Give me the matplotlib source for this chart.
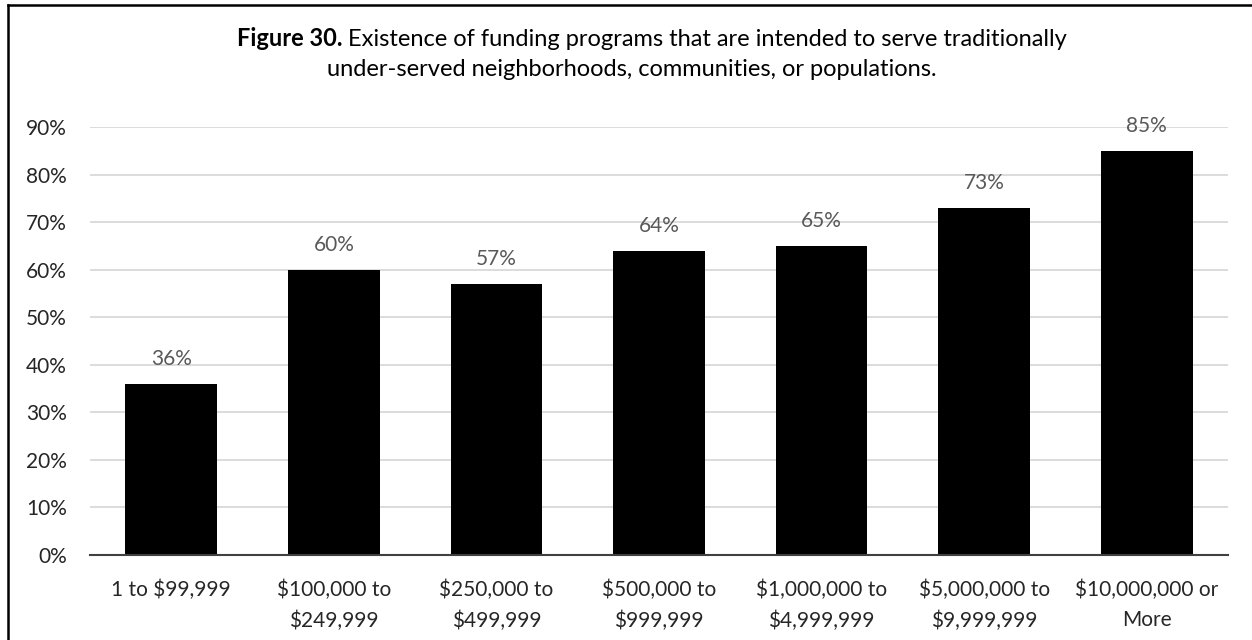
import matplotlib
matplotlib.use("Agg")
import matplotlib.pyplot as plt
from matplotlib.lines import Line2D

categories = ["1 to $99,999", "$100,000 to\n$249,999", "$250,000 to\n$499,999",
              "$500,000 to\n$999,999", "$1,000,000 to\n$4,999,999",
              "$5,000,000 to\n$9,999,999", "$10,000,000 or\nMore"]
values = [36, 60, 57, 64, 65, 73, 85]
yticks = [0, 10, 20, 30, 40, 50, 60, 70, 80, 90]

plt.rcParams['font.family'] = ['Lato', 'DejaVu Sans']

W, H = 1252, 640
fig = plt.figure(figsize=(W / 100, H / 100), dpi=100)
ax = fig.add_axes([90 / W, 1 - 555 / H, (1228 - 90) / W, (555 - 127) / H])

x = list(range(len(categories)))
ax.bar(x, values, width=0.565, color='black', zorder=3)
for xi, v in zip(x, values):
    ax.annotate(f"{v}%", (xi, v), xytext=(0, 18), textcoords='offset points',
                ha='center', va='center', fontsize=15, color='#595959')

ax.set_ylim(0, 90)
ax.set_xlim(-0.5, len(categories) - 0.5)
ax.set_yticks(yticks)
ax.set_yticklabels([f"{t}%" for t in yticks], fontsize=15, color='#262626')
ax.set_xticks(x)
ax.set_xticklabels(categories, fontsize=15, linespacing=1.65, color='#262626')
ax.tick_params(length=0)
ax.tick_params(axis='x', pad=17.5)
ax.tick_params(axis='y', pad=16.5)
ax.grid(axis='y', color='#d9d9d9', lw=1.3, zorder=0)
for s in ['top', 'right', 'left']:
    ax.spines[s].set_visible(False)
ax.spines['bottom'].set_color('#404040')
ax.spines['bottom'].set_linewidth(1.5)
ax.spines['bottom'].set_zorder(4)

# two-line title: bold lead-in followed by regular text on the first line
title_size = 17
t1 = fig.text(0, 0, "Figure 30. ", fontsize=title_size, fontweight='bold', va='baseline')
t2 = fig.text(0, 0, "Existence of funding programs that are intended to serve traditionally",
              fontsize=title_size, va='baseline')
fig.canvas.draw()
r = fig.canvas.get_renderer()
w1 = t1.get_window_extent(r).width
w2 = t2.get_window_extent(r).width
left = (652 - (w1 + w2) / 2) / W
t1.set_position((left, 1 - 46 / H))
t2.set_position((left + w1 / W, 1 - 46 / H))
fig.text(632 / W, 1 - 76 / H, "under-served neighborhoods, communities, or populations.",
         fontsize=title_size, ha='center', va='baseline')

# frame around the figure (left and top edges fall inside the canvas)
fig.add_artist(Line2D([8 / W, 8 / W], [0, 1 - 5 / H], transform=fig.transFigure,
                      color='black', lw=1.8))
fig.add_artist(Line2D([8 / W, 1], [1 - 5 / H, 1 - 5 / H], transform=fig.transFigure,
                      color='black', lw=1.8))
fig.savefig("out.png", dpi=100)
